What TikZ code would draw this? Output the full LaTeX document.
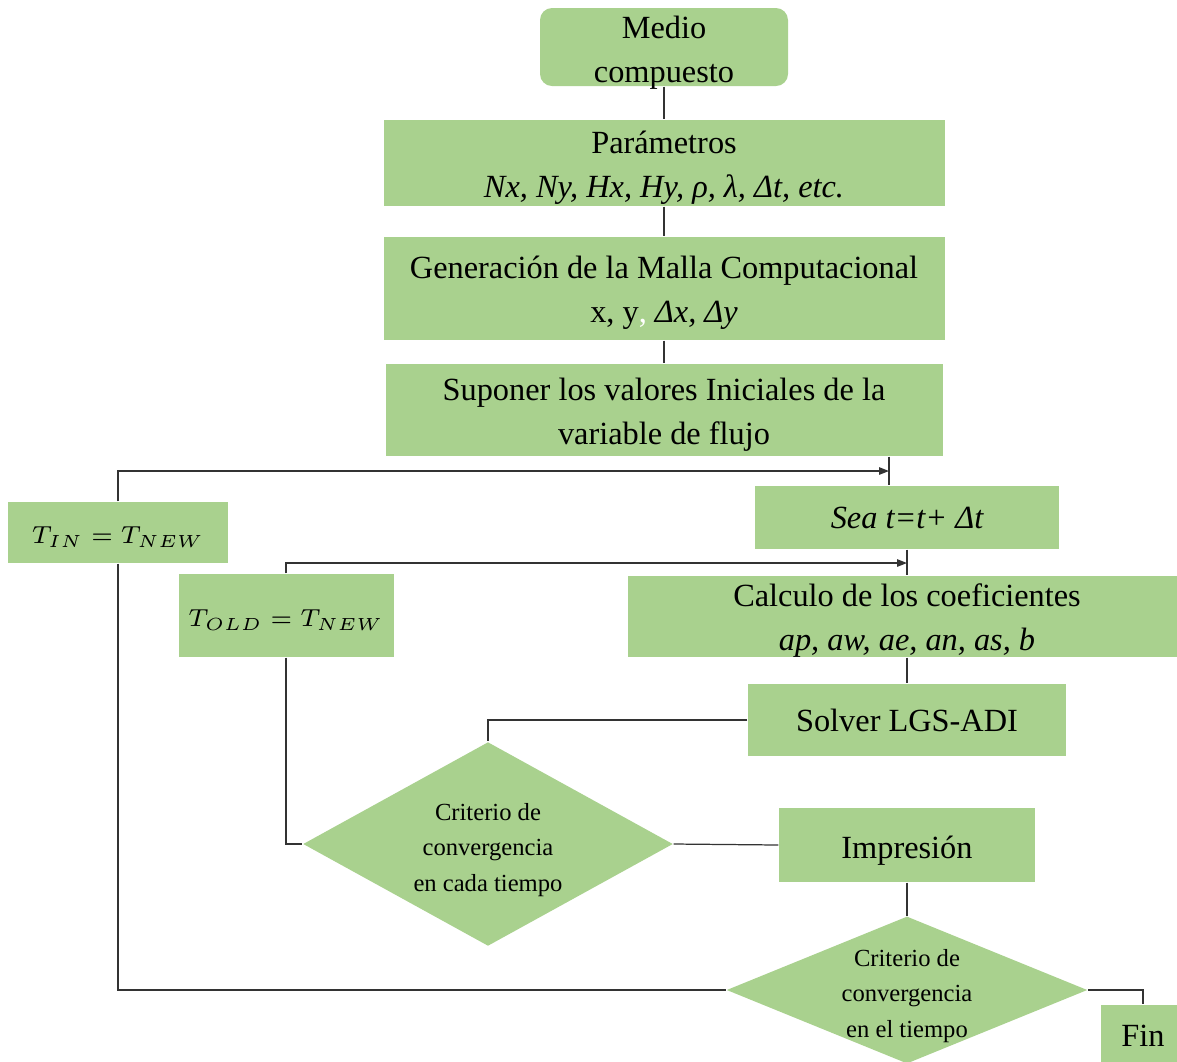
\documentclass[tikz,border=0pt]{standalone}
\usepackage{fontspec}
\setmainfont{Liberation Serif}
\usetikzlibrary{shapes.geometric,arrows.meta,positioning}
\definecolor{boxgreen}{HTML}{A9D18E}

\begin{document}
\begin{tikzpicture}[
    boxnode/.style={fill=boxgreen, inner sep=0pt, align=center, font=\fontsize{9.2}{12.5}\selectfont},
    twoline/.style={text height=0.72cm, text depth=0.04cm},
    decnode/.style={diamond, fill=boxgreen, inner sep=0pt, align=center, text height=0.94cm, text depth=0pt, font=\fontsize{7}{10}\selectfont},
    eqnode/.style={fill=boxgreen, inner sep=0pt, text height=0.26cm, font=\fontsize{7.3}{9}\selectfont},
    link/.style={line width=0.35pt, black!80},
    backarrow/.style={link, -{Triangle[length=1mm, width=0.75mm]}}
]
\useasboundingbox (0,0) rectangle (11.77,-10.61);
% Main column
\node[boxnode, text height=0.73cm, text depth=0.03cm, rounded corners=0.12cm, minimum width=2.48cm, minimum height=0.78cm] (medio) at (6.64,-0.47) {Medio\\compuesto};
\node[boxnode, twoline, minimum width=5.61cm, minimum height=0.86cm] (param) at (6.64,-1.63) {Parámetros\\\itshape Nx, Ny, Hx, Hy, ρ, λ, Δt, etc.};
\node[boxnode, twoline, minimum width=5.61cm, minimum height=1.03cm] (malla) at (6.64,-2.885) {Generación de la Malla Computacional\\x, y{\color{white},} \itshape Δx, Δy};
\node[boxnode, twoline, minimum width=5.57cm, minimum height=0.92cm] (suponer) at (6.64,-4.10) {Suponer los valores Iniciales de la\\variable de flujo};
% Time loop
\node[boxnode, minimum width=3.04cm, minimum height=0.63cm] (sea) at (9.07,-5.175) {\itshape Sea t=t+ Δt};
\node[boxnode, twoline, minimum width=5.58cm, minimum height=0.81cm] (calc) at (9.07,-6.165) {Calculo de los coeficientes\\\itshape ap, aw, ae, an, as, b};
\node[boxnode, minimum width=3.18cm, minimum height=0.72cm] (solver) at (9.07,-7.20) {Solver LGS-ADI};
\node[boxnode, text height=0.34cm, minimum width=2.56cm, minimum height=0.74cm] (impr) at (9.07,-8.45) {Impresión};
\node[boxnode, minimum width=0.84cm, minimum height=0.62cm] (fin) at (11.43,-10.36) {Fin};
% Decisions
\node[decnode, aspect=1.8, minimum width=3.70cm, minimum height=2.04cm] (crit1) at (4.88,-8.44) {Criterio de\\convergencia\\en cada tiempo};
\node[decnode, aspect=2.45, minimum width=3.58cm, minimum height=1.46cm] (crit2) at (9.07,-9.90) {Criterio de\\convergencia\\en el tiempo};
% Updates
\node[eqnode, minimum width=2.20cm, minimum height=0.61cm] (tin) at (1.18,-5.325) {$T_{IN}=T_{NEW}$};
\node[eqnode, minimum width=2.15cm, minimum height=0.83cm] (told) at (2.86,-6.155) {$T_{OLD}=T_{NEW}$};
\coordinate (j1) at (8.89,-4.71);
\coordinate (j2) at (9.07,-5.63);
% Connectors
\foreach \a/\b in {medio/param, param/malla, malla/suponer, sea/calc, calc/solver, impr/crit2}
    \draw[link] (\a) -- (\b);
\draw[link] (suponer.south -| j1) -- (sea.north -| j1);
\draw[link] (solver.west) -| (crit1.north);
\draw[link] (crit1.east) -- (impr.west);
\draw[link] (crit2.east) -| (fin.north);
\draw[link] (told.south) |- (crit1.west);
\draw[link] (tin.south) |- (crit2.west);
\draw[backarrow] (tin.north) |- (j1);
\draw[backarrow] (told.north) |- (j2);
\end{tikzpicture}
\end{document}
